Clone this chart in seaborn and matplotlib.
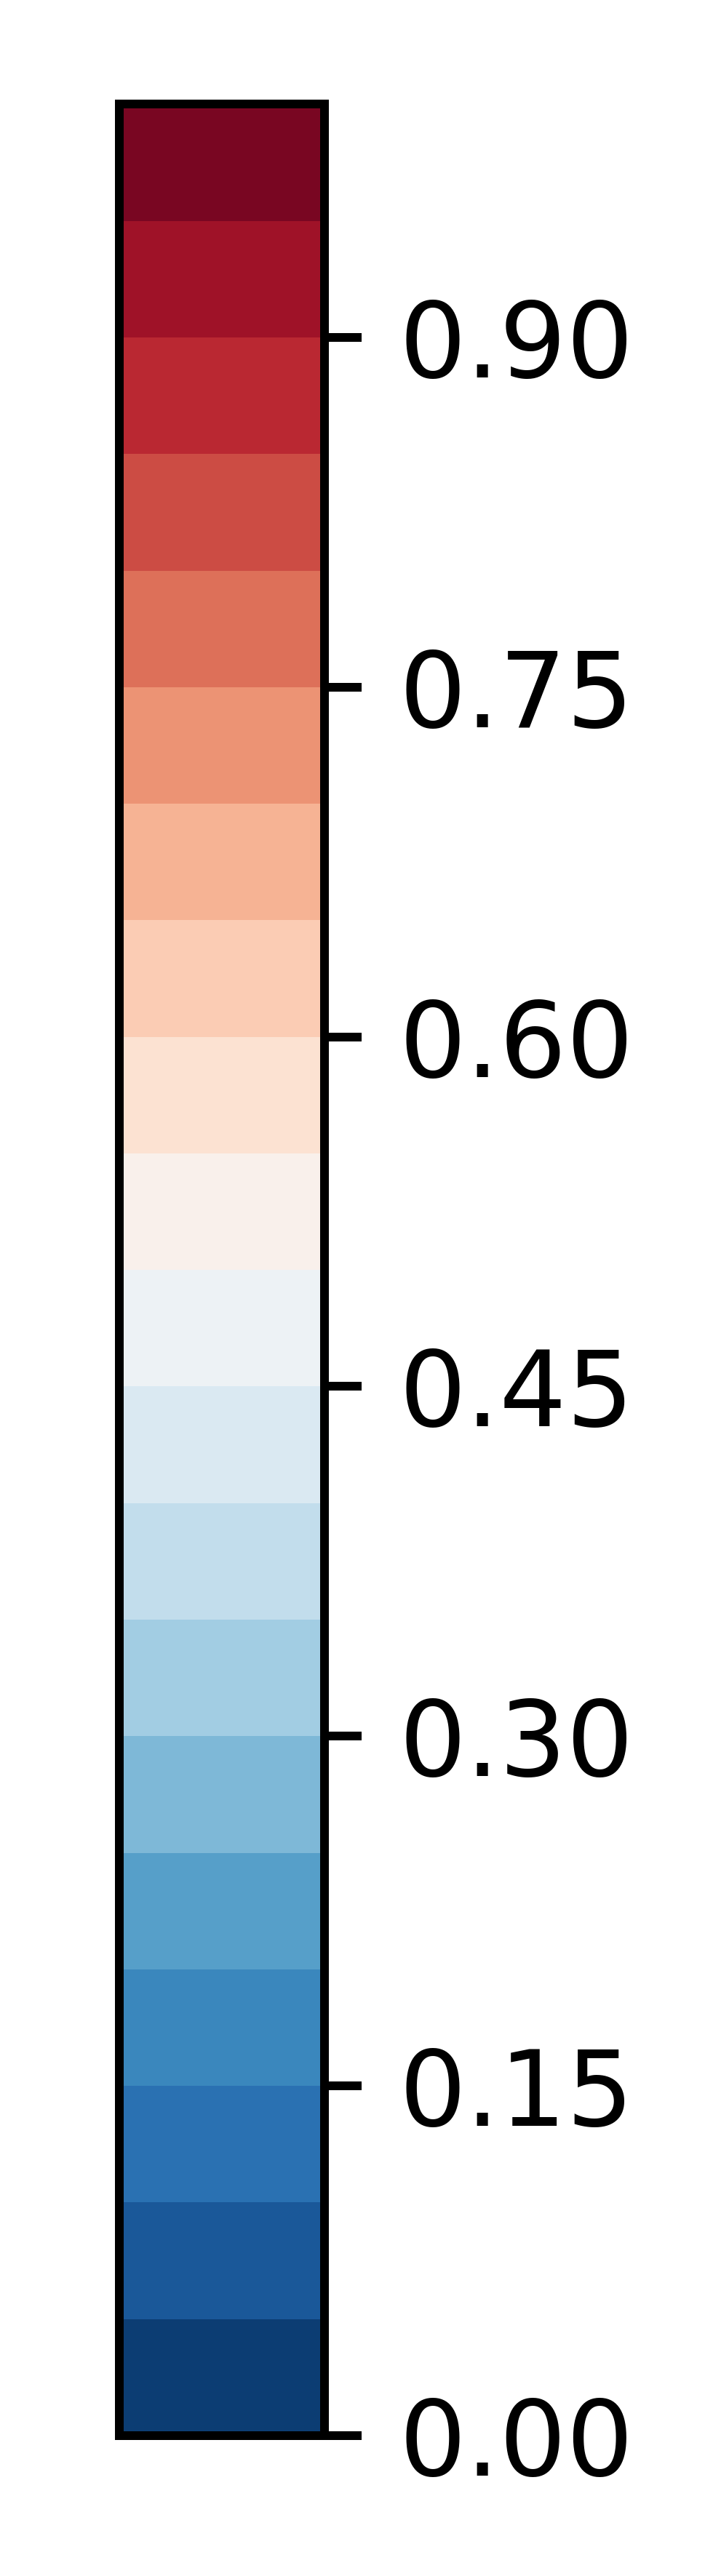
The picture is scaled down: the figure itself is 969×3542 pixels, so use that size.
import numpy as np
import pandas as pd
import matplotlib
matplotlib.use("Agg")
import matplotlib.pyplot as plt
from matplotlib.colors import ListedColormap
import seaborn as sns

# Discrete level boundaries of the colour bar (20 bins, 0 to 1)
levels = [0.00, 0.05, 0.10, 0.15, 0.20, 0.25, 0.30, 0.35, 0.40, 0.45, 0.50,
          0.55, 0.60, 0.65, 0.70, 0.75, 0.80, 0.85, 0.90, 0.95, 1.00]
# Tick values shown on the bar
tick_values = [0.00, 0.15, 0.30, 0.45, 0.60, 0.75, 0.90]
tick_labels = ["0.00", "0.15", "0.30", "0.45", "0.60", "0.75", "0.90"]

sns.set_style("white")
plt.rcParams["font.family"] = ["DejaVu Sans"]

# colour of each bin: RdBu_r sampled at the bin midpoints
mids = [(a + b) / 2 for a, b in zip(levels[:-1], levels[1:])]
base = plt.get_cmap("RdBu_r")
cmap = ListedColormap(base(np.array(mids)))

# one column, highest value at the top
df = pd.DataFrame({"v": mids[::-1]})

fig = plt.figure(figsize=(3.23, 11.80667), dpi=300)
fig.patch.set_facecolor("white")
ax = fig.add_axes([0.1692, 0.0545, 0.2915, 0.9050])

sns.heatmap(df, ax=ax, cmap=cmap, vmin=levels[0], vmax=levels[-1], cbar=False,
            xticklabels=False, yticklabels=False)

n = len(mids)
span = levels[-1] - levels[0]
ax.set_xticks([])
ax.yaxis.tick_right()
ax.set_yticks([n * (levels[-1] - t) / span for t in tick_values])
ax.set_yticklabels(tick_labels, rotation=0)
ax.tick_params(axis="y", which="major", right=True, left=False, labelright=True,
               labelleft=False, length=12.2, width=2.88, pad=12.2,
               labelsize=34.8, color="black", labelcolor="black", direction="out")
ax.tick_params(axis="x", bottom=False, top=False)
ax.set_xlabel("")
ax.set_ylabel("")

for side, sp in ax.spines.items():
    sp.set_visible(True)
    sp.set_color("black")
    sp.set_linewidth(2.88)

fig.savefig("out.png", dpi=300, facecolor="white")
